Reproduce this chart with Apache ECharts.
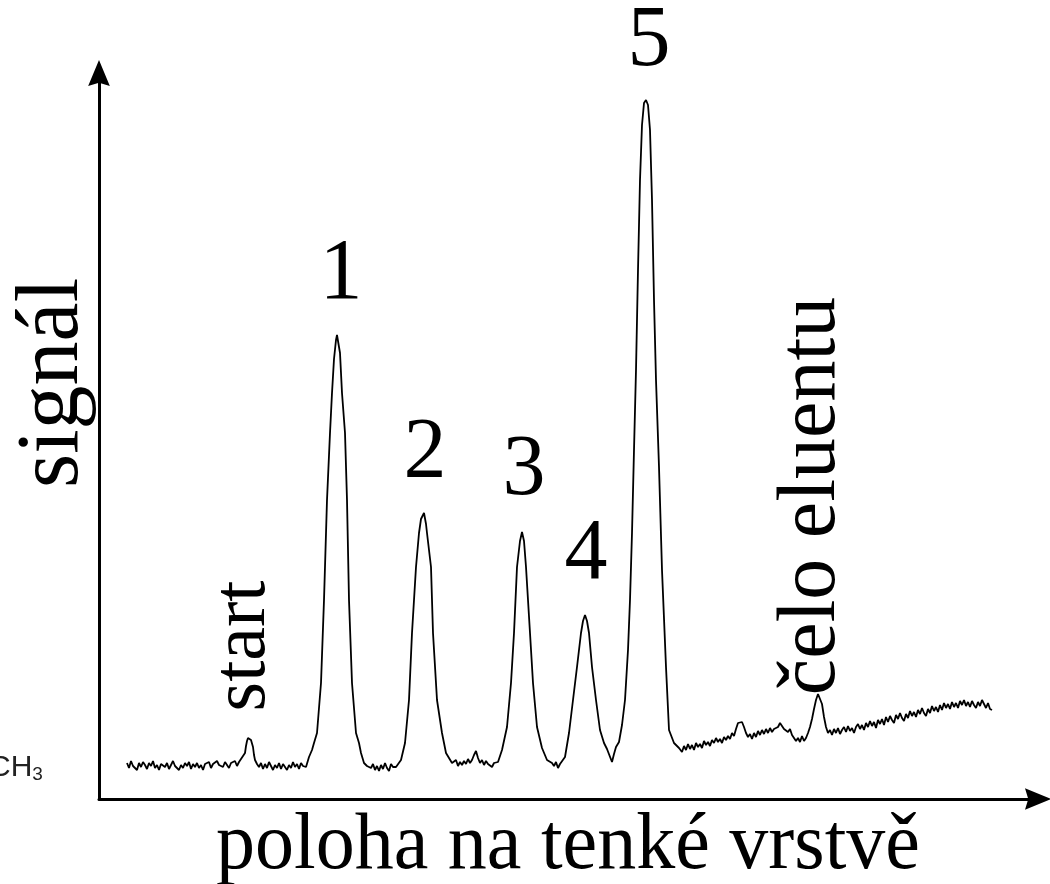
<!DOCTYPE html>
<html>
<head>
<meta charset="utf-8">
<script src="https://cdn.jsdelivr.net/npm/echarts@6/dist/echarts.min.js"></script>
<style>
  html, body { margin: 0; padding: 0; background: #fff; }
  #chart { width: 1050px; height: 884px; }
</style>
</head>
<body>
<div id="chart"></div>
<script>
// position on the plate (arbitrary units) and detector signal
const baseline_start = [
    [28, 36], [30, 31], [32, 38], [34, 33], [36, 35], [38, 29], [40, 36], [42, 32], [44, 37], [46, 34],
    [48, 30], [50, 36], [52, 33], [54, 38], [56, 31], [58, 34], [60, 29], [62, 35], [64, 37], [66, 32],
    [68, 36], [70, 30], [72, 34], [74, 38], [76, 33], [78, 35], [80, 29], [82, 34], [84, 31], [86, 36],
    [88, 33], [90, 37], [92, 30], [94, 35], [96, 32], [98, 36], [100, 31], [102, 34], [104, 29], [106, 35],
    [108, 33], [110, 37], [112, 31], [114, 35], [116, 33], [118, 38], [120, 34], [122, 36], [124, 32], [126, 37],
    [128, 35], [130, 31], [132, 36], [134, 34], [136, 38], [138, 33], [140, 37], [142, 40], [144, 38],
];
const start_peak = [
    [146, 46], [147, 53], [148, 58], [149, 61], [150, 60], [151, 63], [152, 59], [153, 57], [154, 52], [155, 44],
    [156, 39], [158, 35], [160, 32], [162, 36], [164, 30], [166, 35], [168, 31], [170, 37], [172, 33], [174, 29],
    [176, 34], [178, 31], [180, 36], [182, 30], [184, 35], [186, 33], [188, 29], [190, 34], [192, 31], [194, 37],
    [196, 32], [198, 35], [200, 30], [202, 36], [204, 33],
];
const peak_1 = [
    [207, 32], [210, 42], [213, 49], [215, 56], [218, 66], [222, 116], [225, 199], [228, 299], [231, 366],
    [233, 406], [235, 440], [237, 459], [238, 464], [239, 463], [241, 446], [243, 406], [246, 366], [248, 299],
    [250, 199], [253, 116], [257, 66], [260, 56], [262, 46], [265, 36], [268, 33], [270, 32],
    [272, 31], [274, 35], [276, 29], [278, 33], [280, 28], [282, 34], [284, 30], [286, 36], [288, 31],
    [290, 28], [292, 35], [294, 32],
];
const peak_2 = [
    [297, 32], [302, 39], [306, 56], [310, 99], [313, 166], [317, 232], [320, 266], [322, 280], [325, 286],
    [327, 275], [328, 266], [332, 232], [334, 166], [338, 99], [343, 66], [347, 46], [353, 36],
    [355, 35], [357, 39], [359, 33], [361, 37], [363, 34], [365, 38], [367, 35], [369, 40], [371, 36],
    [373, 39], [375, 44], [377, 48], [379, 41], [381, 36], [383, 39], [385, 34], [387, 38], [389, 35],
    [391, 37], [393, 32], [395, 36], [397, 34],
];
const peak_3 = [
    [399, 37], [403, 49], [408, 72], [412, 116], [415, 166], [418, 232], [421, 258], [423, 267], [425, 258],
    [427, 232], [431, 166], [434, 116], [438, 72], [443, 51], [448, 39], [453, 36],
    [455, 33], [457, 37], [459, 31], [461, 35],
];
const peak_4 = [
    [463, 36], [466, 42], [470, 66], [474, 99], [478, 132], [482, 166], [484, 178], [486, 184], [488, 178],
    [490, 166], [493, 132], [497, 99], [501, 69], [505, 56], [508, 50], [510, 52], [513, 37], [515, 45], [517, 52],
];
const peak_5 = [
    [520, 57], [523, 74], [526, 99], [529, 149], [531, 199], [533, 266], [535, 349], [537, 429], [539, 529],
    [541, 619], [543, 674], [545, 696], [547, 699], [549, 694], [551, 669], [553, 599], [555, 499], [557, 419],
    [560, 332], [563, 229], [567, 132], [570, 69], [575, 56], [580, 51],
];
const baseline_end = [
    [583, 47], [585, 53], [587, 49], [589, 55], [591, 50], [593, 54], [595, 49], [597, 56], [599, 52], [601, 55],
    [603, 51], [605, 58], [607, 54], [609, 57], [611, 53], [613, 59], [615, 56], [617, 61], [619, 57], [621, 60],
    [623, 56], [625, 62], [627, 59], [629, 63], [631, 60], [633, 66], [635, 63], [637, 70], [639, 76], [641, 78],
    [643, 77], [645, 72], [647, 66], [649, 62], [651, 65], [653, 60], [655, 66], [657, 62], [659, 68], [661, 64],
    [663, 69], [665, 65], [667, 70], [669, 66], [671, 71], [673, 67], [675, 70], [677, 68], [679, 72], [681, 76],
    [683, 74], [685, 70], [687, 72], [689, 67], [691, 70], [693, 64], [695, 62], [697, 58], [699, 61], [701, 57],
    [703, 63], [705, 58], [707, 61], [709, 66],
];
const front_peak = [
    [711, 72], [713, 80], [715, 90], [717, 99], [719, 105], [720, 106], [721, 104], [723, 95], [725, 82], [727, 72],
    [729, 66], [731, 69], [733, 64], [735, 70], [737, 66], [739, 71], [741, 65], [743, 69], [745, 72], [747, 67],
    [749, 73], [751, 68], [753, 71], [755, 66], [757, 72], [759, 75], [761, 70], [763, 74], [765, 69], [767, 76],
    [769, 72], [771, 78], [773, 73], [775, 77], [777, 71], [779, 79], [781, 75], [783, 80], [785, 74], [787, 82],
    [789, 77], [791, 83], [793, 79], [795, 76], [797, 84], [799, 80], [801, 86], [803, 81], [805, 78], [807, 85],
    [809, 81], [811, 88], [813, 83], [815, 87], [817, 82], [819, 89], [821, 85], [823, 91], [825, 86], [827, 83],
    [829, 90], [831, 86], [833, 93], [835, 88], [837, 92], [839, 87], [841, 94], [843, 89], [845, 96], [847, 91],
    [849, 95], [851, 90], [853, 97], [855, 92], [857, 96], [859, 91], [861, 98], [863, 94], [865, 99], [867, 93],
    [869, 97], [871, 92], [873, 98], [875, 94], [877, 91], [879, 97], [881, 93], [883, 99], [885, 95], [887, 91],
    [889, 96], [891, 90], [893, 89],
];
const trace = [].concat(baseline_start, start_peak, peak_1, peak_2, peak_3, peak_4, peak_5, baseline_end, front_peak);

const peak_labels = ['1', '2', '3', '4', '5'];
const x_title = 'poloha na tenké vrstvě';
const y_title = 'signál';
const start_label = 'start';
const front_label = 'čelo eluentu';

const serif = "'Liberation Serif', 'Times New Roman', serif";
const sans = "'Liberation Sans', Arial, sans-serif";
const arrow_head = 'path://M10,0 L20,24 L10,21 L0,24 Z';

let chart = echarts.init(document.getElementById('chart'));

function label_text(text, x, y, size, rotation, sx, sy) {
    return {
        type: 'text', x: x, y: y, rotation: rotation || 0, scaleX: sx || 1, scaleY: sy || 1,
        style: {
            text: text, fontSize: size, fontFamily: serif, fill: '#000',
            align: 'center', verticalAlign: 'middle', textAlign: 'center', textVerticalAlign: 'middle'
        }
    };
}

const label_pos = [[341, 275], [425, 454], [524, 471], [586, 555], [649, 42]];

let graphics = peak_labels.map((t, i) => label_text(t, label_pos[i][0], label_pos[i][1], 86));
graphics.push(label_text(x_title, 568, 847, 78, 0, 1, 1.04));
graphics.push(label_text(y_title, 54, 383, 88, Math.PI / 2));
graphics.push(label_text(start_label, 244, 646, 76, Math.PI / 2));
graphics.push(label_text(front_label, 812, 496, 82, Math.PI / 2));
// stray formula fragment cut at the left edge
graphics.push({
    type: 'text', x: -11, y: 768,
    style: {
        text: 'CH{sub|3}', fontSize: 30, fontFamily: sans, fill: '#222',
        verticalAlign: 'middle', textVerticalAlign: 'middle',
        rich: { sub: { fontSize: 19, fontFamily: sans, fill: '#222', padding: [14, 0, 0, 0] } }
    }
});

let option = {
    animation: false,
    backgroundColor: '#fff',
    grid: { left: 99, right: 12, top: 73, bottom: 85, outerBoundsMode: 'none' },
    xAxis: {
        type: 'value', min: 0, max: 939,
        axisLine: { onZero: false, symbol: ['none', arrow_head], symbolSize: [23, 26], lineStyle: { color: '#000', width: 3 } },
        axisTick: { show: false }, axisLabel: { show: false }, splitLine: { show: false }
    },
    yAxis: {
        type: 'value', min: 0, max: 726,
        axisLine: { show: true, onZero: false, symbol: ['none', arrow_head], symbolSize: [23, 26], lineStyle: { color: '#000', width: 3 } },
        axisTick: { show: false }, axisLabel: { show: false }, splitLine: { show: false }
    },
    series: [{
        type: 'line', data: trace, showSymbol: false, smooth: false,
        lineStyle: { color: '#000', width: 1.8 }
    }],
    graphic: graphics
};
chart.setOption(option);
</script>
</body>
</html>
